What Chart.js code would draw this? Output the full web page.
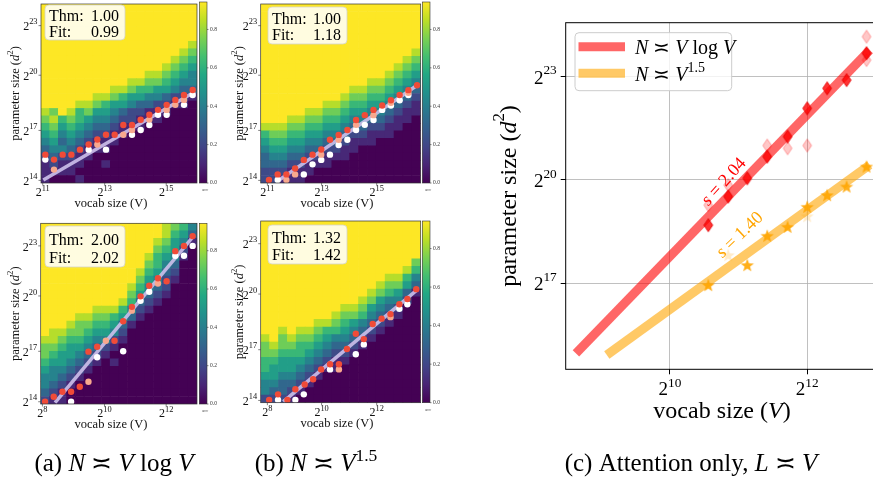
<!DOCTYPE html>
<html>
<head>
<meta charset="utf-8">
<script src="https://cdn.jsdelivr.net/npm/chart.js@4.4.1/dist/chart.umd.min.js"></script>
<style>
  html, body { margin: 0; padding: 0; background: #fff; overflow: hidden; }
  #page { position: relative; width: 873px; height: 480px; overflow: hidden; }
  #page canvas { position: absolute; left: 0; top: 0; }
</style>
</head>
<body>
<div id="page">
  <canvas id="heatA1" width="873" height="480"></canvas>
  <canvas id="heatB1" width="873" height="480"></canvas>
  <canvas id="heatA2" width="873" height="480"></canvas>
  <canvas id="heatB2" width="873" height="480"></canvas>
  <canvas id="cbA1" width="873" height="480"></canvas>
  <canvas id="cbB1" width="873" height="480"></canvas>
  <canvas id="cbA2" width="873" height="480"></canvas>
  <canvas id="cbB2" width="873" height="480"></canvas>
  <canvas id="attn" width="890" height="480"></canvas>
</div>
<script>
// ---- heatmaps: one string per row (top row first), one digit per cell, 0 = acc 0 .. 9 = top of colour bar
const ACC_MAX = 0.943;

const gridA1 = [
  '999999999999999999', '999999999999999999', '999999999999999999', '999999999999999999',
  '999999999999999999', '999999999999999998', '999999999999999987', '999999999999999876',
  '999999999999998765', '999999999999887654', '999999999988776544', '999999998876655433',
  '999999887655443221', '999988765543322110', '879867554322111000', '786765443221110000',
  '675654332111000000', '564543221100000000', '453432111000000000', '344321110000000000',
  '232211000000000000', '121110010000000000', '111100000000000000', '100010000000000000'
];
const gridB1 = [
  '999999999999999999', '999999999999999999', '999999999999999999', '999999999999999999',
  '999999999999999999', '999999999999999999', '999999999999999998', '999999999999999987',
  '999999999999999876', '999999999999998765', '999999999999887654', '999999999988776543',
  '999999999877665432', '999999988766554321', '999998877655443211', '999887766544332110',
  '888776655433221100', '677665544322111000', '566554433211100000', '455443322110000000',
  '344332211100000000', '333221110000000000', '222111000000000000', '221110000000000000'
];
const gridA2 = [
  '999999999999998764', '999999999999998653', '999999999999987541', '999999999999976520',
  '999999999999865410', '999999999999764300', '999999999998653200', '999999999997542100',
  '999999999986432000', '999999999975321000', '999999999863210000', '999999888642100000',
  '999988776531000000', '999877665310000000', '988776554200000000', '887665442100000000',
  '776554321000000000', '765543210000000000', '655432101000000000', '544321000000000000',
  '443210000000000000', '432100000000000000', '321000000000000000', '211000000000000000'
];
const gridB2 = [
  '999999999999999999', '999999999999999999', '999999999999999999', '999999999999999999',
  '999999999999999999', '999999999999999997', '999999999999999986', '999999999999998864',
  '999999999999987753', '999999999999876531', '999999999998754420', '999999999887543200',
  '999999998776432100', '999999887654321000', '998988766543210000', '897877654432100000',
  '787766543321000000', '776665432210000000', '665554321100000000', '655543211000000000',
  '554432100000000000', '443321000000000000', '433210000000000000', '222100000000000000'
];

// heatmap tick labels (powers of two) and where they sit, in cell units
const heatXExpTop = [11, 13, 15];
const heatXExpBottom = [8, 10, 12];
const heatYExp = [14, 17, 20, 23];
const heatXPosA = [0.2, 7.35, 14.45];
const heatXPosB = [0.75, 6.85, 13.05];
const heatYPosTop = [0.35, 7.05, 14.45, 21.1];
const heatYPosBottom = [0.3, 7.0, 14.35, 21.0];
const cbTicks = [0, 0.2, 0.4, 0.6, 0.8];

// boundary points on each heatmap (cell units)
const redA1X = [0.5, 1.5, 2.5, 3.5, 4.5, 5.5, 6.5, 7.5, 8.5, 9.5, 10.5, 11.5, 12.5, 13.5, 14.5, 15.5, 16.5, 17.5];
const redA1Y = [3.8, 3.14, 3.8, 3.8, 4.47, 5.17, 5.84, 6.46, 6.46, 7.78, 7.78, 8.49, 9.15, 9.81, 10.48, 11.14, 11.8, 12.47];
const pinkA1X = [1.5, 6.5, 9.5, 10.5, 12.5, 14.5, 15.5, 16.5];
const pinkA1Y = [1.8, 5.17, 6.46, 7.1, 8.5, 9.8, 10.48, 11.14];
const whiteA1X = [0.5, 5.5, 7.5, 10.5, 11.5, 12.5, 13.5, 14.5, 16.5, 17.5];
const whiteA1Y = [3.14, 4.47, 4.47, 6.46, 7.1, 7.78, 9.15, 9.15, 10.48, 11.8];
const fitA1X = [0.27, 17.76];
const fitA1Y = [0.4, 12.24];

const redB1X = [0.93, 1.91, 2.89, 3.87, 4.85, 5.83, 6.81, 7.79, 8.77, 9.75, 10.73, 11.71, 12.69, 13.67, 14.65, 15.63, 16.61, 17.59];
const redB1Y = [0.4, 1.15, 1.15, 1.95, 3.1, 3.8, 4.5, 5.8, 6.45, 7.1, 8.45, 9.1, 9.8, 10.4, 11.1, 11.8, 12.45, 13.1];
const pinkB1X = [2.89, 3.87, 6.81, 8.77, 10.73, 12.69, 14.65, 16.61];
const pinkB1Y = [0.4, 1.15, 3.8, 5.8, 7.8, 9.1, 10.75, 12.1];
const whiteB1X = [1.91, 4.85, 5.83, 6.81, 7.79, 8.77, 9.75, 10.73, 11.71, 12.69, 13.67, 14.65, 15.63, 16.61];
const whiteB1Y = [0.4, 1.15, 2.5, 3.1, 3.8, 5.1, 5.8, 7.1, 7.8, 8.45, 9.8, 10.4, 11.1, 11.8];
const fitB1X = [1.8, 17.73];
const fitB1Y = [0.17, 13.2];

const redA2X = [0.5, 1.5, 2.5, 3.5, 4.5, 5.5, 6.5, 8.5, 9.5, 10.5, 11.5, 12.5, 13.5, 14.5, 15.5, 16.5, 17.5];
const redA2Y = [0.3, 0.97, 1.63, 1.63, 2.3, 6.95, 7.6, 8.4, 11.0, 12.9, 14.3, 15.7, 16.7, 16.3, 20.3, 21.0, 22.3];
const pinkA2X = [5.5, 7.5, 10.5, 13.5];
const pinkA2Y = [2.96, 8.4, 12.4, 16.0];
const whiteA2X = [3.5, 6.5, 9.5, 11.5, 12.5, 15.5, 16.5, 17.5];
const whiteA2Y = [0.3, 6.2, 7.0, 13.7, 14.9, 19.7, 19.7, 21.0];
const fitA2X = [1.65, 17.6];
const fitA2Y = [0.17, 22.3];

const redB2X = [0.95, 1.95, 3.0, 3.9, 4.95, 5.9, 6.8, 7.8, 8.8, 9.7, 10.7, 11.6, 12.6, 13.6, 14.6, 15.6, 16.5, 17.5];
const redB2Y = [0.36, 1.1, 0.36, 1.77, 2.4, 3.1, 4.4, 5.07, 5.07, 7.1, 9.1, 8.4, 10.4, 11.1, 11.7, 13.0, 13.7, 15.0];
const pinkB2X = [8.8, 14.6];
const pinkB2Y = [4.4, 11.3];
const whiteB2X = [1.95, 3.9, 4.85, 7.8, 10.7, 11.6, 15.6, 16.5];
const whiteB2Y = [0.36, 0.36, 1.1, 4.4, 6.4, 7.7, 12.4, 13.0];
const fitB2X = [2.54, 17.7];
const fitB2Y = [0.13, 15.0];

const thmValues = [1.00, 1.00, 2.00, 1.32];
const fitValues = [0.99, 1.18, 2.02, 1.42];

// ---- attention-only panel, log2 units
const xTickExpAttn = [10, 12];
const yTickExpAttn = [17, 20, 23];
const redSolidX = [10.558, 10.849, 11.126, 11.417, 11.714, 12.0, 12.29, 12.573, 12.864];
const redSolidY = [18.69, 19.52, 20.05, 20.68, 21.26, 22.08, 22.66, 22.9, 23.68];
const redFadedX = [10.558, 10.849, 11.417, 11.714, 12.0, 12.864, 12.864];
const redFadedY = [19.27, 19.85, 21.0, 20.92, 21.0, 24.16, 23.48];
const orangeSolidX = [10.558, 11.126, 11.417, 11.714, 12.0, 12.29, 12.573, 12.864];
const orangeSolidY = [16.95, 17.53, 18.38, 18.64, 19.22, 19.56, 19.81, 20.39];
const orangeFadedX = [10.849, 12.0];
const orangeFadedY = [17.82, 18.95];
const redFitX = [8.63, 12.91];
const redFitY = [14.97, 23.77];
const orangeFitX = [9.08, 12.91];
const orangeFitY = [14.92, 20.44];

const SERIF = "'Liberation Serif', 'DejaVu Serif', serif";
Chart.defaults.font.family = SERIF;

const VIRIDIS = ['#440154', '#482475', '#414487', '#355f8d', '#2a788e', '#21918c',
                 '#22a884', '#44bf70', '#7ad151', '#bddf26', '#fde725'];
function hexRgb(h) { return [1, 3, 5].map(i => parseInt(h.substr(i, 2), 16)); }
function viridis(t) {
  t = Math.min(1, Math.max(0, t)) * 10;
  const i = Math.min(9, Math.floor(t)), f = t - i;
  const a = hexRgb(VIRIDIS[i]), b = hexRgb(VIRIDIS[i + 1]);
  return 'rgb(' + a.map((v, k) => Math.round(v + (b[k] - v) * f)).join(',') + ')';
}

function pts(xs, ys) { return xs.map((x, i) => ({ x: x, y: ys[i] })); }

// text with italic / superscript pieces: parts = [[text, ''|'i'|'sup'], ...]
function drawRich(ctx, parts, x, y, size, align, color) {
  const items = parts.map(([t, k]) => {
    const sup = k === 'sup';
    const font = (k === 'i' ? 'italic ' : '') + (sup ? size * 0.7 : size) + 'px ' + SERIF;
    ctx.font = font;
    return { t: t, font: font, w: ctx.measureText(t).width, dy: sup ? -size * 0.42 : 0 };
  });
  const total = items.reduce((s, p) => s + p.w, 0);
  let cx = align === 'center' ? x - total / 2 : align === 'right' ? x - total : x;
  ctx.fillStyle = color || '#000';
  ctx.textAlign = 'left';
  items.forEach(p => { ctx.font = p.font; ctx.fillText(p.t, cx, y + p.dy); cx += p.w; });
}

function roundBox(ctx, x0, y0, x1, y1, r) {
  ctx.beginPath();
  ctx.moveTo(x0 + r, y0);
  ctx.arcTo(x1, y0, x1, y1, r);
  ctx.arcTo(x1, y1, x0, y1, r);
  ctx.arcTo(x0, y1, x0, y0, r);
  ctx.arcTo(x0, y0, x1, y0, r);
  ctx.closePath();
}

const panels = [
  { canvas: 'heatA1', cb: 'cbA1', grid: gridA1, area: [41, 2, 197, 183], cbArea: [199.3, 2, 207, 183],
    xExp: heatXExpTop, xPos: heatXPosA, yPos: heatYPosTop, clip: 873,
    red: [redA1X, redA1Y], pink: [pinkA1X, pinkA1Y], white: [whiteA1X, whiteA1Y], fit: [fitA1X, fitA1Y],
    k: 0, box: [45, 5, 125, 40], yTitleX: 16, xTitleX: 111 },
  { canvas: 'heatB1', cb: 'cbB1', grid: gridB1, area: [260.7, 2, 420.7, 183], cbArea: [422.3, 2, 430, 183],
    xExp: heatXExpTop, xPos: heatXPosB, yPos: heatYPosTop, clip: 440,
    red: [redB1X, redB1Y], pink: [pinkB1X, pinkB1Y], white: [whiteB1X, whiteB1Y], fit: [fitB1X, fitB1Y],
    k: 1, box: [268, 7, 347, 44], yTitleX: 240, xTitleX: 337 },
  { canvas: 'heatA2', cb: 'cbA2', grid: gridA2, area: [40.7, 223.3, 197, 404], cbArea: [199.3, 223.3, 207, 404],
    xExp: heatXExpBottom, xPos: heatXPosA, yPos: heatYPosBottom, clip: 873,
    red: [redA2X, redA2Y], pink: [pinkA2X, pinkA2Y], white: [whiteA2X, whiteA2Y], fit: [fitA2X, fitA2Y],
    k: 2, box: [45, 226, 125, 267], yTitleX: 16, xTitleX: 111 },
  { canvas: 'heatB2', cb: 'cbB2', grid: gridB2, area: [260.7, 221, 420.7, 402.7], cbArea: [422.3, 221, 430, 402.7],
    xExp: heatXExpBottom, xPos: heatXPosB, yPos: heatYPosBottom, clip: 440,
    red: [redB2X, redB2Y], pink: [pinkB2X, pinkB2Y], white: [whiteB2X, whiteB2Y], fit: [fitB2X, fitB2Y],
    k: 3, box: [268, 225, 347, 264], yTitleX: 240, xTitleX: 337 }
];

function dots(color, xs, ys) {
  return { type: 'scatter', data: pts(xs, ys), pointRadius: 3.2, pointBackgroundColor: color,
           pointBorderWidth: 0, pointBorderColor: color, order: 0 };
}

function heatDecor(p) {
  return {
    id: 'heatDecor',
    afterDraw(chart) {
      const { ctx, chartArea: a, scales: { x, y } } = chart;
      ctx.save();
      ctx.strokeStyle = '#333';
      ctx.lineWidth = 0.7;
      ctx.strokeRect(a.left, a.top, a.right - a.left, a.bottom - a.top);

      ctx.lineWidth = 0.6;
      ctx.textBaseline = 'middle';
      heatYExp.forEach((e, i) => {
        const py = y.getPixelForValue(p.yPos[i]);
        ctx.beginPath(); ctx.moveTo(a.left - 2.5, py); ctx.lineTo(a.left, py); ctx.stroke();
        drawRich(ctx, [['2', ''], [String(e), 'sup']], a.left - 3.5, py + 1.5, 12, 'right', '#111');
      });
      ctx.textBaseline = 'alphabetic';
      p.xExp.forEach((e, i) => {
        const px = x.getPixelForValue(p.xPos[i]);
        ctx.beginPath(); ctx.moveTo(px, a.bottom); ctx.lineTo(px, a.bottom + 2.5); ctx.stroke();
        drawRich(ctx, [['2', ''], [String(e), 'sup']], px, a.bottom + 13, 12, 'center', '#111');
      });

      drawRich(ctx, [['vocab size (V)', '']], p.xTitleX, a.bottom + 24, 12.5, 'center', '#111');
      ctx.save();
      ctx.translate(p.yTitleX, (a.top + a.bottom) / 2);
      ctx.rotate(-Math.PI / 2);
      ctx.textBaseline = 'middle';
      drawRich(ctx, [['parameter size (', ''], ['d', 'i'], ['2', 'sup'], [')', '']], 0, 0, 12.5, 'center', '#111');
      ctx.restore();

      const [bx0, by0, bx1, by1] = p.box;
      roundBox(ctx, bx0, by0, bx1, by1, 4);
      ctx.fillStyle = 'rgba(255,255,255,0.86)';
      ctx.fill();
      ctx.strokeStyle = '#d4d4c8';
      ctx.lineWidth = 0.8;
      ctx.stroke();
      const h = by1 - by0;
      ctx.textBaseline = 'alphabetic';
      drawRich(ctx, [['Thm:', '']], bx0 + 4, by0 + h * 0.45 + 0.5, 16, 'left', '#000');
      drawRich(ctx, [['Fit:', '']], bx0 + 4, by0 + h * 0.9, 16, 'left', '#000');
      drawRich(ctx, [[thmValues[p.k].toFixed(2), '']], bx1 - 6, by0 + h * 0.45 + 0.5, 16, 'right', '#000');
      drawRich(ctx, [[fitValues[p.k].toFixed(2), '']], bx1 - 6, by0 + h * 0.9, 16, 'right', '#000');
      ctx.restore();
    }
  };
}

function makeHeatmap(p) {
  const nRows = p.grid.length, nCols = p.grid[0].length;
  const cells = [];
  p.grid.forEach((row, r) => {
    [...row].forEach((d, c) => {
      cells.push({ x: c + 0.5, y: [nRows - 1 - r, nRows - r], acc: Number(d) / 9 * ACC_MAX });
    });
  });
  const [L, T, R, B] = p.area;
  new Chart(document.getElementById(p.canvas), {
    type: 'bar',
    data: {
      datasets: [
        dots('#f04b38', p.red[0], p.red[1]),
        dots('#f8a88e', p.pink[0], p.pink[1]),
        dots('#ffffff', p.white[0], p.white[1]),
        { type: 'line', data: pts(p.fit[0], p.fit[1]), borderColor: 'rgba(205,192,235,0.9)',
          borderWidth: 3.5, pointRadius: 0, order: 1 },
        { type: 'bar', data: cells, order: 2, borderWidth: 0, barPercentage: 1, categoryPercentage: 1,
          backgroundColor: c => c.raw ? viridis(c.raw.acc / ACC_MAX) : '#440154' }
      ]
    },
    options: {
      responsive: false,
      animation: false,
      events: [],
      layout: { padding: { left: L, top: T, right: 873 - R, bottom: 480 - B } },
      plugins: { legend: { display: false }, tooltip: { enabled: false } },
      scales: {
        x: { type: 'linear', display: false, min: 0, max: nCols, offset: false },
        y: { type: 'linear', display: false, min: 0, max: nRows, beginAtZero: false }
      }
    },
    plugins: [heatDecor(p)]
  });
}

function makeColorbar(p) {
  const [L, T, R, B] = p.cbArea;
  new Chart(document.getElementById(p.cb), {
    type: 'bar',
    data: { labels: [], datasets: [] },
    options: {
      responsive: false,
      animation: false,
      events: [],
      layout: { padding: { left: L, top: T, right: 873 - R, bottom: 480 - B } },
      plugins: { legend: { display: false }, tooltip: { enabled: false } },
      scales: { x: { display: false }, y: { display: false, min: 0, max: ACC_MAX } }
    },
    plugins: [{
      id: 'cbar',
      afterDraw(chart) {
        const { ctx, chartArea: a, scales: { y } } = chart;
        ctx.save();
        ctx.beginPath(); ctx.rect(0, 0, p.clip, 480); ctx.clip();
        const g = ctx.createLinearGradient(0, a.bottom, 0, a.top);
        VIRIDIS.forEach((c, i) => g.addColorStop(i / 10, c));
        ctx.fillStyle = g;
        ctx.fillRect(a.left, a.top, a.right - a.left, a.bottom - a.top);
        ctx.strokeStyle = '#333'; ctx.lineWidth = 0.6;
        ctx.strokeRect(a.left, a.top, a.right - a.left, a.bottom - a.top);
        ctx.textBaseline = 'middle';
        cbTicks.forEach(v => {
          const py = y.getPixelForValue(v);
          ctx.beginPath(); ctx.moveTo(a.right, py); ctx.lineTo(a.right + 1.5, py); ctx.stroke();
          drawRich(ctx, [[v.toFixed(1), '']], a.right + 3, py, 5.5, 'left', '#333');
        });
        ctx.textBaseline = 'alphabetic';
        drawRich(ctx, [['acc', '']], (a.left + a.right) / 2 + 2, a.bottom + 8, 4.5, 'center', '#444');
        ctx.restore();
      }
    }]
  });
}

panels.forEach(p => { makeHeatmap(p); makeColorbar(p); });

// ---- markers for the attention-only panel
function marker(kind, fill, stroke) {
  const c = document.createElement('canvas');
  c.width = 16; c.height = 16;
  const ctx = c.getContext('2d');
  ctx.beginPath();
  if (kind === 'diamond') {
    ctx.moveTo(8, 1.5); ctx.lineTo(12.4, 8); ctx.lineTo(8, 14.5); ctx.lineTo(3.6, 8);
  } else {
    for (let k = 0; k < 10; k++) {
      const r = k % 2 ? 2.9 : 7;
      const ang = -Math.PI / 2 + k * Math.PI / 5;
      ctx.lineTo(8 + r * Math.cos(ang), 8.6 + r * Math.sin(ang));
    }
  }
  ctx.closePath();
  ctx.fillStyle = fill;
  ctx.fill();
  if (stroke) { ctx.strokeStyle = stroke; ctx.lineWidth = 1; ctx.stroke(); }
  return c;
}

const attnDecor = {
  id: 'attnDecor',
  afterDraw(chart) {
    const { ctx, chartArea: a, scales: { x, y } } = chart;
    ctx.save();
    ctx.strokeStyle = '#000'; ctx.lineWidth = 1;
    ctx.strokeRect(a.left, a.top, a.right - a.left, a.bottom - a.top);

    ctx.textBaseline = 'alphabetic';
    xTickExpAttn.forEach(e => {
      drawRich(ctx, [['2', ''], [String(e), 'sup']], x.getPixelForValue(e), a.bottom + 26, 19, 'center', '#000');
    });
    ctx.textBaseline = 'middle';
    yTickExpAttn.forEach(e => {
      drawRich(ctx, [['2', ''], [String(e), 'sup']], a.left - 9, y.getPixelForValue(e) + 2, 19, 'right', '#000');
    });
    ctx.textBaseline = 'alphabetic';
    drawRich(ctx, [['vocab size (', ''], ['V', 'i'], [')', '']], 722, 418, 24, 'center', '#000');
    ctx.save();
    ctx.translate(510, (a.top + a.bottom) / 2);
    ctx.rotate(-Math.PI / 2);
    ctx.textBaseline = 'middle';
    drawRich(ctx, [['parameter size (', ''], ['d', 'i'], ['2', 'sup'], [')', '']], 0, 0, 24, 'center', '#000');
    ctx.restore();

    // slope labels
    ctx.save();
    ctx.translate(724, 182); ctx.rotate(-48 * Math.PI / 180);
    ctx.textBaseline = 'middle';
    drawRich(ctx, [['s', 'i'], [' = 2.04', '']], 0, 0, 18, 'center', '#ff0000');
    ctx.restore();
    ctx.save();
    ctx.translate(740, 235); ctx.rotate(-44 * Math.PI / 180);
    ctx.textBaseline = 'middle';
    drawRich(ctx, [['s', 'i'], [' = 1.40', '']], 0, 0, 18, 'center', '#ffa500');
    ctx.restore();

    // legend
    roundBox(ctx, 575, 32.7, 731.7, 90.7, 4);
    ctx.fillStyle = 'rgba(255,255,255,0.8)';
    ctx.fill();
    ctx.strokeStyle = '#cccccc'; ctx.lineWidth = 1;
    ctx.stroke();
    ctx.lineWidth = 9;
    ctx.strokeStyle = 'rgba(255,0,0,0.6)';
    ctx.beginPath(); ctx.moveTo(578.5, 46.7); ctx.lineTo(625, 46.7); ctx.stroke();
    ctx.strokeStyle = 'rgba(255,165,0,0.6)';
    ctx.beginPath(); ctx.moveTo(578.5, 73.3); ctx.lineTo(625, 73.3); ctx.stroke();
    ctx.textBaseline = 'alphabetic';
    drawRich(ctx, [['N', 'i'], [' \u224D ', ''], ['V', 'i'], [' log ', ''], ['V', 'i']], 635, 53.5, 20, 'left', '#000');
    drawRich(ctx, [['N', 'i'], [' \u224D ', ''], ['V', 'i'], ['1.5', 'sup']], 635, 80.5, 20, 'left', '#000');

    // sub-figure captions
    drawRich(ctx, [['(a) ', ''], ['N', 'i'], [' \u224D ', ''], ['V', 'i'], [' log ', ''], ['V', 'i']], 114, 471, 25, 'center', '#000');
    drawRich(ctx, [['(b) ', ''], ['N', 'i'], [' \u224D ', ''], ['V', 'i'], ['1.5', 'sup']], 316, 471, 25, 'center', '#000');
    drawRich(ctx, [['(c) Attention only, ', ''], ['L', 'i'], [' \u224D ', ''], ['V', 'i']], 691, 471, 25, 'center', '#000');
    ctx.restore();
  }
};

const gridOpts = { color: '#b0b0b0', lineWidth: 0.8, tickLength: 5, tickColor: '#000', tickWidth: 1 };

new Chart(document.getElementById('attn'), {
  type: 'scatter',
  data: {
    datasets: [
      { data: pts(redSolidX, redSolidY), pointStyle: marker('diamond', 'rgba(255,0,0,0.8)', 'rgba(230,0,0,0.9)'), pointRadius: 6, order: 0 },
      { data: pts(redFadedX, redFadedY), pointStyle: marker('diamond', 'rgba(255,0,0,0.22)', 'rgba(255,0,0,0.32)'), pointRadius: 6, order: 0 },
      { data: pts(orangeSolidX, orangeSolidY), pointStyle: marker('star', 'rgba(255,165,0,0.9)', null), pointRadius: 6, order: 0 },
      { data: pts(orangeFadedX, orangeFadedY), pointStyle: marker('star', 'rgba(255,165,0,0.22)', null), pointRadius: 6, order: 0 },
      { type: 'line', data: pts(redFitX, redFitY), borderColor: 'rgba(255,0,0,0.6)', borderWidth: 9,
        pointRadius: 0, borderCapStyle: 'butt', order: 1 },
      { type: 'line', data: pts(orangeFitX, orangeFitY), borderColor: 'rgba(255,165,0,0.6)', borderWidth: 9,
        pointRadius: 0, borderCapStyle: 'butt', order: 1 }
    ]
  },
  options: {
    responsive: false,
    animation: false,
    events: [],
    layout: { padding: { left: 565.7, top: 22.7, right: 10, bottom: 110.7 } },
    plugins: { legend: { display: false }, tooltip: { enabled: false } },
    scales: {
      x: {
        type: 'linear', min: 8.481, max: 13.06,
        afterBuildTicks: s => { s.ticks = xTickExpAttn.map(v => ({ value: v })); },
        afterFit: s => { s.height = 0; },
        ticks: { display: false },
        grid: gridOpts,
        border: { display: false }
      },
      y: {
        type: 'linear', min: 14.505, max: 24.566,
        afterBuildTicks: s => { s.ticks = yTickExpAttn.map(v => ({ value: v })); },
        afterFit: s => { s.width = 0; },
        ticks: { display: false },
        grid: gridOpts,
        border: { display: false }
      }
    }
  },
  plugins: [attnDecor]
});
</script>
</body>
</html>
